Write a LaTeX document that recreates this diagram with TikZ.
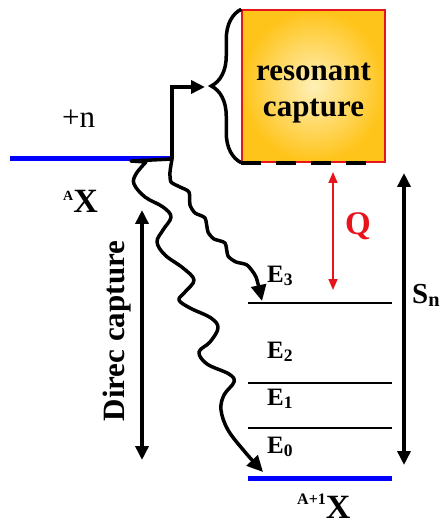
\documentclass[tikz,border=0pt]{standalone}
\usepackage{fontspec}
\setmainfont{Liberation Serif}
\usetikzlibrary{arrows.meta, decorations.pathreplacing}

\definecolor{boxin}{HTML}{FFF0B8}
\definecolor{boxout}{HTML}{FFC41A}
\definecolor{qred}{HTML}{E8141C}

\begin{document}
\begin{tikzpicture}[x=1pt, y=-1pt,
    resbox/.style={rectangle, draw=qred, line width=1.5pt, inner color=boxin,
                   outer color=boxout, minimum width=143pt, minimum height=152pt,
                   inner sep=0pt},
    big/.style={font=\fontsize{31}{36}\selectfont\bfseries, align=center,
                inner sep=0pt},
    elabel/.style={font=\fontsize{25}{28}\selectfont\bfseries, anchor=base west,
                   inner sep=0pt},
    iso/.style={font=\fontsize{34}{36}\selectfont\bfseries, anchor=base west,
                inner sep=0pt},
    line/.style={line width=3.5pt, -{Triangle[length=14pt, width=13pt]}},
    both/.style={line width=3.5pt,
                 {Triangle[length=14pt, width=13pt]}-{Triangle[length=14pt, width=13pt]}},
    qline/.style={line width=1.6pt, qred,
                  {Triangle[length=11pt, width=9pt]}-{Triangle[length=11pt, width=9pt]}},
    wave/.style={line width=3.5pt, line join=round, line cap=round,
                 -{Triangle[length=16pt, width=15pt]}},
    brace/.style={decorate, decoration={brace, amplitude=30pt}, line width=3.5pt},
    dashline/.style={line width=4pt, dash pattern=on 20pt off 15pt},
    lvl/.style={line width=2pt},
    gstate/.style={line width=5pt, blue}
]
    \useasboundingbox (0,0) rectangle (442,526);

    % resonance box
    \node[resbox] (res) at (313.5,86) {};
    \node[big] (restxt) at (313.5,93) {resonant\\capture};
    \draw[brace] (res.south west) -- (res.north west);
    \draw[dashline] (res.south west) -- ([xshift=-13pt]res.south east);

    % target state
    \coordinate (ax-l)  at (10,159);
    \coordinate (split) at (172,159);
    \coordinate (brtip) at (205,87);
    \draw[gstate] (ax-l) -- (split);
    \node[font=\fontsize{31}{36}\selectfont, anchor=base west, inner sep=0pt]
        (plusn) at (62,128) {+n};
    \node[iso] (ax) at (63,213) {\raisebox{13pt}{\fontsize{14}{14}\selectfont A}X};

    % levels of the compound nucleus
    \foreach \n/\y in {3/303, 1/383, 0/428} {
        \coordinate (l\n-l) at (248,\y);
        \coordinate (l\n-r) at (392,\y);
        \draw[lvl] (l\n-l) -- (l\n-r);
    }
    \coordinate (g-l) at (248,478);
    \coordinate (g-r) at (392,478);
    \draw[gstate] (g-l) -- (g-r);
    \node[elabel] (e3) at (267,282) {E\textsubscript{3}};
    \node[elabel] (e2) at (267,358) {E\textsubscript{2}};
    \node[elabel] (e1) at (267,405) {E\textsubscript{1}};
    \node[elabel] (e0) at (267,453) {E\textsubscript{0}};
    \node[iso] (ax1) at (297,518) {\raisebox{14pt}{\fontsize{16}{16}\selectfont A+1}X};

    % energy arrows
    \coordinate (q-t)  at (333,172);
    \coordinate (q-b)  at (333,290);
    \coordinate (sn-t) at (404,173);
    \coordinate (sn-b) at (404,465);
    \coordinate (dc-t) at (142,210);
    \coordinate (dc-b) at (142,460);
    \draw[qline] (q-t) -- (q-b);
    \node[font=\fontsize{33}{36}\selectfont\bfseries, text=qred, inner sep=0pt]
        (q) at (358,226) {Q};
    \draw[both] (sn-b) -- (sn-t);
    \node[font=\fontsize{29}{34}\selectfont\bfseries, anchor=base west, inner sep=0pt]
        (sn) at (412,303) {S\textsubscript{n}};
    \draw[both] (dc-b) -- (dc-t);
    \node[big, rotate=90] (direc) at (117,331) {Direc capture};

    % capture paths
    \draw[line] (split) |- (brtip);
    \coordinate (e3tip) at (262,301);
    \coordinate (g0tip) at (263,472);
    \draw[wave] plot[smooth, tension=.4] coordinates {(split) (170,172) (171,182)
        (180,187) (189,192) (190,205) (195,213) (205,218) (208,232) (214,239)
        (225,243) (228,256) (236,262) (247,265) (256,277) (e3tip)};
    \draw[wave] (split) -- (131,161) -- plot[smooth, tension=.6] coordinates {
        (146,162) (136,174) (134,184) (145,197) (163,207) (171,217) (163,230)
        (157,242) (165,255) (183,268) (194,280) (185,292) (179,300) (190,308)
        (211,318) (218,328) (210,342) (199,352) (207,364) (229,374) (234,382)
        (224,395) (221,410) (228,430) (245,452) (g0tip)};

\end{tikzpicture}
\end{document}
